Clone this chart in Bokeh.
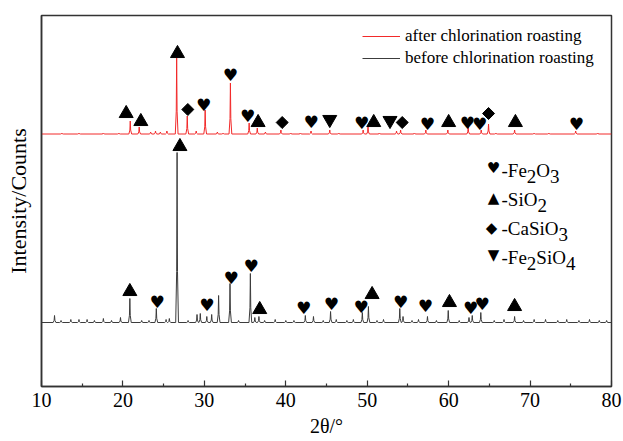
from bokeh.plotting import figure
from bokeh.models import Range1d, FixedTicker, Legend, LegendItem, Label, ColumnDataSource
from bokeh.core.properties import value
from bokeh.embed import file_html
from bokeh.resources import INLINE

# ---------------- data ----------------
x_ticks = [10, 20, 30, 40, 50, 60, 70, 80]

after_baseline = 252.5
before_baseline = 64.0

after_peak_pos = [12.5, 14.6, 17.6, 19.5, 20.9, 22.0, 23.4, 24.0, 24.6, 25.4, 26.6, 27.9,
                  29.0, 30.1, 31.6, 32.3, 33.2, 35.5, 36.5, 37.5, 39.4, 40.6, 41.8, 43.1,
                  45.4, 46.5, 49.5, 50.1, 51.5, 53.6, 54.1, 55.8, 57.2, 59.9, 62.4, 64.0,
                  64.9, 65.8, 68.1, 70.5, 72.3, 75.6, 78.3]
after_peak_h = [1, 1, 1, 1, 13, 7, 2, 3, 2, 3, 76, 18,
                3, 24, 2, 1, 51, 11, 6, 2, 4, 1, 1, 3,
                4, 1, 4, 7, 1, 3, 4, 1, 4, 4, 7, 4,
                10, 1, 4, 1, 1, 3, 1]

before_peak_pos = [11.6, 12.4, 13.6, 14.6, 15.6, 16.5, 17.6, 18.6, 19.7, 20.85, 22.3, 23.2,
                   24.1, 25.3, 25.7, 26.65, 28.0, 29.1, 29.5, 30.3, 30.9, 31.75, 33.15, 34.2,
                   35.65, 36.2, 36.7, 37.4, 38.7, 40.0, 41.0, 42.4, 43.4, 44.6, 45.5, 46.2,
                   47.5, 48.3, 49.4, 50.15, 51.2, 52.0, 54.0, 54.4, 55.5, 56.3, 57.4, 58.5,
                   59.95, 61.3, 62.5, 62.9, 63.95, 65.6, 66.8, 68.1, 69.2, 70.5, 71.9, 73.4,
                   74.5, 76.0, 77.3, 78.5, 79.4]
before_peak_h = [7, 2, 3, 3, 3, 2, 4, 2, 5, 24, 2, 2,
                 14, 3, 4, 170, 2, 8, 9, 6, 8, 27, 39, 2,
                 49, 5, 6, 2, 3, 2, 2, 7, 6, 2, 11, 3,
                 2, 3, 10, 16, 2, 3, 14, 6, 2, 3, 6, 2,
                 12, 2, 5, 7, 10, 2, 3, 6, 2, 3, 3, 2,
                 3, 2, 3, 2, 2]

after_fe2o3_x = [29.9, 33.2, 35.3, 43.1, 49.3, 57.4, 62.3, 63.8, 75.7]
after_fe2o3_y = [282, 312, 271, 265, 264, 263, 264, 263, 263]
after_sio2_x = [20.4, 22.2, 26.7, 36.6, 50.8, 60.0, 68.2]
after_sio2_y = [273, 265, 333, 264, 264, 264, 264]
after_casio3_x = [27.97, 39.56, 54.3, 64.9]
after_casio3_y = [277, 264, 264, 273]
after_fe2sio4_x = [45.4, 52.8]
after_fe2sio4_y = [267, 266]

before_fe2o3_x = [24.2, 30.3, 33.3, 35.75, 42.2, 45.6, 49.25, 54.1, 57.15, 62.7, 64.1]
before_fe2o3_y = [85, 82, 109, 121, 79, 83, 80, 85, 81, 79, 83]
before_sio2_x = [20.85, 27.0, 36.8, 50.6, 60.1, 68.1]
before_sio2_y = [95, 240, 77, 92, 84, 80]

series_labels = ["after chlorination roasting", "before chlorination roasting"]
phase_rows = [
    ("\u2665", [("-Fe", False), ("2", True), ("O", False), ("3", True)]),
    ("\u25B2", [("-SiO", False), ("2", True)]),
    ("\u25C6", [("-CaSiO", False), ("3", True)]),
    ("\u25BC", [("-Fe", False), ("2", True), ("SiO", False), ("4", True)]),
]

def pattern(base, pos, h):
    xs, ys = [10.0], [base]
    for x0, hh in sorted(zip(pos, h)):
        xs += [x0 - 0.17, x0 - 0.05, x0, x0 + 0.05, x0 + 0.17]
        ys += [base, base + 0.3 * hh, base + hh, base + 0.3 * hh, base]
    xs.append(80.0)
    ys.append(base)
    return xs, ys

# Times / Liberation Serif advance widths (em)
TW = {"-": 0.333, "F": 0.556, "e": 0.444, "O": 0.722, "S": 0.556, "i": 0.278,
      "C": 0.667, "a": 0.444, "2": 0.5, "3": 0.5, "4": 0.5}

def text_width(s, size):
    return sum(TW[c] for c in s) * size

SERIF = "Liberation Serif"

p = figure(width=623, height=441, output_backend="svg", toolbar_location=None,
           x_range=Range1d(10, 80), y_range=Range1d(0, 371),
           min_border_left=41, min_border_right=12, min_border_top=15, min_border_bottom=55)
p.background_fill_color = "white"
p.border_fill_color = "white"
p.xgrid.visible = False
p.ygrid.visible = False
p.outline_line_color = "#333333"
p.outline_line_width = 1.5

xa = p.xaxis[0]
xa.ticker = FixedTicker(ticks=x_ticks, minor_ticks=[15, 25, 35, 45, 55, 65, 75])
xa.axis_line_color = "#333333"
xa.axis_line_width = 1.5
xa.major_tick_in = 6
xa.major_tick_out = 0
xa.minor_tick_in = 3
xa.minor_tick_out = 0
xa.major_tick_line_color = "#333333"
xa.minor_tick_line_color = "#333333"
xa.major_tick_line_width = 1.2
xa.minor_tick_line_width = 1.2
xa.major_label_text_font = SERIF
xa.major_label_text_font_size = "20px"
xa.major_label_text_color = "black"
xa.major_label_standoff = 6
xa.axis_label = "2\u03b8/\u00b0"
xa.axis_label_text_font = SERIF
xa.axis_label_text_font_size = "20px"
xa.axis_label_text_font_style = "normal"
xa.axis_label_text_color = "black"
xa.axis_label_standoff = 5

ya = p.yaxis[0]
ya.ticker = FixedTicker(ticks=[])
ya.axis_line_color = "#333333"
ya.axis_line_width = 1.5
ya.major_tick_line_color = None
ya.minor_tick_line_color = None
ya.axis_label = "Intensity/Counts"
ya.axis_label_text_font = SERIF
ya.axis_label_text_font_size = "22px"
ya.axis_label_text_font_style = "normal"
ya.axis_label_text_color = "black"
ya.axis_label_standoff = 11

ax, ay = pattern(after_baseline, after_peak_pos, after_peak_h)
bx, by = pattern(before_baseline, before_peak_pos, before_peak_h)
r_after = p.line(ax, ay, line_color="#f22a2a", line_width=1)
r_before = p.line(bx, by, line_color="#3c3c3c", line_width=1)

heart_src = ColumnDataSource(dict(x=after_fe2o3_x + before_fe2o3_x,
                                  y=after_fe2o3_y + before_fe2o3_y,
                                  t=["\u2665"] * (len(after_fe2o3_x) + len(before_fe2o3_x))))
p.text(x="x", y="y", text="t", source=heart_src, text_font=value("DejaVu Sans"),
       text_font_size="17px", text_align="center", text_baseline="middle", text_color="black")
p.scatter(after_sio2_x + before_sio2_x, after_sio2_y + before_sio2_y, marker="triangle",
          size=14, color="black")
p.scatter(after_casio3_x, after_casio3_y, marker="square", angle=0.785398, size=8.5, color="black")
p.scatter(after_fe2sio4_x, after_fe2sio4_y, marker="inverted_triangle", size=14, color="black")

legend = Legend(items=[LegendItem(label=series_labels[0], renderers=[r_after]),
                       LegendItem(label=series_labels[1], renderers=[r_before])],
                location=(321, 318), orientation="vertical",
                glyph_width=38, glyph_height=20, label_height=20, spacing=2,
                label_standoff=5, padding=0, margin=0,
                label_text_font=SERIF, label_text_font_size="17px", label_text_color="black",
                border_line_color=None, background_fill_alpha=0)
p.add_layout(legend)

# phase key (screen units relative to the frame; frame bottom at page y 386)
sym_x = 452
txt_x = 460
fs = 19
base_rows = [170, 199, 228, 257]
sym_rows = [167, 197, 227, 254]
for (sym, pieces), yb, ys in zip(phase_rows, base_rows, sym_rows):
    sy = 386 - ys
    p.add_layout(Label(x=sym_x if sym != "\u25C6" else sym_x - 2, y=sy, x_units="screen", y_units="screen",
                       text=sym, text_font="DejaVu Sans", text_font_size="15px",
                       text_align="center", text_baseline="middle", text_color="black"))
    cx = txt_x
    for s, sub in pieces:
        yy = 386 - yb - (5.5 if sub else 0)
        p.add_layout(Label(x=cx, y=yy, x_units="screen", y_units="screen", text=s,
                           text_font=SERIF, text_font_size=f"{fs}px",
                           text_align="left", text_baseline="alphabetic", text_color="black"))
        cx += text_width(s, fs)

open("out.html", "w").write(file_html(p, INLINE))
